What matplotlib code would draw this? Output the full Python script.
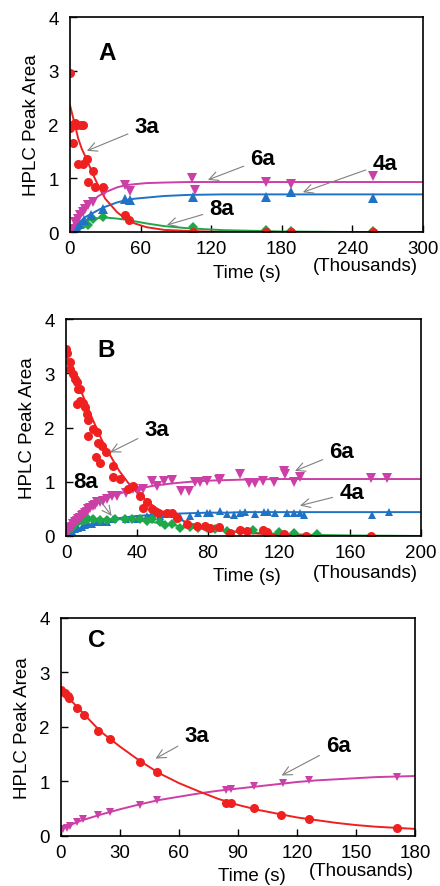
import matplotlib
matplotlib.use("Agg")
import matplotlib.pyplot as plt

plt.rcParams['font.family'] = ['Liberation Sans', 'DejaVu Sans']

# ---------------- Panel A data (x in thousands of s) ----------------
a_3a_x = [0, 0, 2, 3, 4, 6, 9, 11, 7, 11, 14.7, 15.6, 20, 21, 28, 47, 50, 105, 167, 188, 258]
a_3a_y = [2.96, 1.93, 2.0, 1.66, 2.02, 2.0, 2.0, 2.0, 1.26, 1.26, 1.36, 0.93, 1.13, 0.84, 0.84, 0.31, 0.22, 0.0, 0.0, 0.0, 0.0]
a_6a_x = [0, 1.4, 4.3, 7, 8.5, 11.3, 12.8, 15.6, 19.8, 28.9, 46.8, 51, 104, 106, 167, 188, 258]
a_6a_y = [0.0, 0.06, 0.19, 0.25, 0.31, 0.37, 0.43, 0.50, 0.56, 0.74, 0.87, 0.76, 1.0, 0.78, 0.93, 0.90, 1.04]
a_4a_x = [0, 2, 5, 8, 12, 18, 28, 47, 51, 105, 167, 188, 258]
a_4a_y = [0.0, 0.04, 0.09, 0.15, 0.22, 0.32, 0.43, 0.62, 0.59, 0.66, 0.66, 0.74, 0.63]
a_8a_x = [0, 2, 5, 8, 12, 15, 20, 28, 105, 167, 188, 258]
a_8a_y = [0.0, 0.02, 0.07, 0.10, 0.15, 0.13, 0.24, 0.28, 0.09, 0.03, 0.02, 0.01]
# fitted curves
a_fit_x = [0, 3, 7, 10, 14, 20, 25, 30, 40, 47, 55, 65, 80, 100, 130, 180, 240, 300]
a_fit_3a = [2.36, 2.1, 1.74, 1.55, 1.36, 1.05, 0.82, 0.62, 0.37, 0.25, 0.16, 0.09, 0.04, 0.02, 0.0, 0.0, 0.0, 0.0]
a_fit_6a = [0.0, 0.14, 0.3, 0.4, 0.5, 0.6, 0.68, 0.74, 0.83, 0.87, 0.89, 0.91, 0.92, 0.93, 0.93, 0.93, 0.93, 0.93]
a_fit_4a = [0.0, 0.07, 0.16, 0.22, 0.29, 0.36, 0.42, 0.47, 0.55, 0.59, 0.62, 0.64, 0.67, 0.69, 0.70, 0.70, 0.70, 0.70]
a_fit_8a = [0.0, 0.06, 0.13, 0.17, 0.21, 0.25, 0.26, 0.27, 0.25, 0.23, 0.20, 0.16, 0.11, 0.07, 0.035, 0.01, 0.0, 0.0]

# ---------------- Panel B data ----------------
b_3a_x = [0, 0.4, 2.3, 2.3, 3.8, 5, 6, 6.6, 7.9, 6, 7.9, 9.8, 10.7, 11.7, 12.6, 12.6, 15.4, 17.3, 18.2, 20,
          16.9, 22.6, 19.2, 26.7, 26.3, 30.5, 35, 38, 41.7, 45.5, 43.6, 48.3, 52, 56.8, 59.6, 62.4, 68, 73.7,
          78.4, 81, 85.9, 92.5, 98, 101.9, 111, 113, 122.6, 135, 172]
b_3a_y = [3.45, 3.38, 3.2, 3.08, 2.98, 2.89, 2.83, 2.71, 2.71, 2.43, 2.49, 2.46, 2.37, 2.25, 2.14, 1.85, 1.97, 1.91, 1.72, 1.66,
          1.45, 1.54, 1.35, 1.29, 1.08, 1.05, 0.86, 0.92, 0.74, 0.62, 0.52, 0.49, 0.43, 0.43, 0.43, 0.34, 0.22, 0.18,
          0.18, 0.15, 0.17, 0.06, 0.11, 0.09, 0.11, 0.07, 0.03, 0.0, 0.0]
b_6a_x = [0, 1.3, 2.3, 3.2, 4.1, 5, 6, 7, 7.9, 8.8, 9.8, 10.7, 11.7, 12.6, 13.5, 15, 16.4, 17.3, 19.2, 21, 22.9,
          25.8, 28.6, 34, 38, 40.8, 43.6, 48.3, 51, 55, 59.6, 65, 69, 72.7, 75.6, 79.3, 85.9, 86.8, 98, 102.8,
          106.6, 111, 117, 123, 123.5, 128.2, 132, 172, 181]
b_6a_y = [0.01, 0.09, 0.14, 0.17, 0.22, 0.25, 0.28, 0.31, 0.34, 0.37, 0.39, 0.42, 0.44, 0.49, 0.52, 0.55, 0.58, 0.62, 0.62, 0.65, 0.68,
          0.73, 0.74, 0.80, 0.86, 0.83, 0.86, 1.02, 0.92, 1.02, 1.03, 0.83, 0.83, 1.0, 1.0, 1.02, 1.03, 1.05, 1.15, 0.98,
          0.98, 1.02, 1.0, 1.2, 1.14, 0.99, 1.08, 1.06, 1.06]
b_4a_x = [0, 1.3, 3.2, 5, 7, 8.8, 10.7, 12.6, 14.5, 17.3, 20, 23, 26.7, 34, 40, 45.5,
          48.3, 53, 55, 60, 64.3, 70, 74.6, 79.3, 81.2, 86.8, 90.6, 94.4, 98.1, 100.9, 106.6, 111.3, 114,
          117.7, 124.4, 128.2, 132, 133.8, 172.4, 181.8]
b_4a_y = [0.0, 0.06, 0.09, 0.12, 0.15, 0.17, 0.20, 0.22, 0.23, 0.25, 0.25, 0.25, 0.31, 0.31, 0.32, 0.36,
          0.40, 0.37, 0.40, 0.40, 0.35, 0.36, 0.43, 0.43, 0.42, 0.46, 0.40, 0.38, 0.42, 0.45, 0.40, 0.44, 0.44,
          0.42, 0.43, 0.42, 0.42, 0.38, 0.38, 0.44]
b_8a_x = [0, 1.3, 3.2, 5, 7, 8.8, 10.7, 12.6, 15.4, 19.2, 23, 27.6, 33, 37, 41.7, 45.5,
          48.3, 53, 55.8, 59.6, 64.3, 70, 74.6, 79.3, 84, 90.6, 98.1, 105.6, 112.2, 119.7, 128.2, 141.4]
b_8a_y = [0.0, 0.09, 0.15, 0.22, 0.25, 0.28, 0.30, 0.31, 0.31, 0.30, 0.30, 0.32, 0.31, 0.32, 0.31, 0.28,
          0.31, 0.25, 0.20, 0.22, 0.15, 0.17, 0.15, 0.14, 0.12, 0.09, 0.09, 0.11, 0.06, 0.07, 0.05, 0.03]
b_fit_x = [0, 5, 10, 15, 20, 25, 30, 35, 40, 50, 60, 70, 80, 90, 100, 120, 140, 160, 200]
b_fit_3a = [3.35, 2.95, 2.55, 2.15, 1.78, 1.48, 1.2, 0.98, 0.8, 0.53, 0.35, 0.23, 0.15, 0.1, 0.06, 0.02, 0.0, 0.0, 0.0]
b_fit_6a = [0.0, 0.24, 0.43, 0.56, 0.65, 0.72, 0.78, 0.83, 0.87, 0.93, 0.97, 1.0, 1.02, 1.03, 1.04, 1.05, 1.05, 1.05, 1.05]
b_fit_4a = [0.0, 0.09, 0.17, 0.22, 0.27, 0.30, 0.33, 0.35, 0.37, 0.39, 0.41, 0.42, 0.43, 0.43, 0.44, 0.44, 0.44, 0.44, 0.44]
b_fit_8a = [0.0, 0.18, 0.27, 0.30, 0.31, 0.31, 0.31, 0.30, 0.29, 0.25, 0.2, 0.16, 0.12, 0.09, 0.07, 0.04, 0.02, 0.01, 0.0]

# ---------------- Panel C data ----------------
c_3a_x = [0, 2, 3.4, 4.2, 8, 11.7, 18.6, 25, 40, 49, 84, 86.4, 98, 112, 126, 171]
c_3a_y = [2.68, 2.62, 2.56, 2.53, 2.35, 2.22, 1.93, 1.77, 1.36, 1.17, 0.61, 0.60, 0.51, 0.39, 0.31, 0.15]
c_6a_x = [0, 1, 3, 4.5, 8.3, 11.4, 19, 25, 40, 49, 84, 86.4, 98, 113, 126, 171]
c_6a_y = [0.13, 0.12, 0.15, 0.18, 0.25, 0.31, 0.38, 0.44, 0.56, 0.66, 0.84, 0.86, 0.91, 0.98, 1.02, 1.09]
c_fit_x = [0, 10, 20, 30, 40, 50, 60, 70, 80, 90, 100, 110, 120, 130, 140, 150, 160, 170, 180]
c_fit_3a = [2.68, 2.3, 1.92, 1.64, 1.38, 1.15, 0.97, 0.82, 0.68, 0.57, 0.48, 0.41, 0.34, 0.29, 0.24, 0.2, 0.17, 0.15, 0.13]
c_fit_6a = [0.13, 0.28, 0.39, 0.49, 0.58, 0.66, 0.72, 0.78, 0.83, 0.87, 0.91, 0.95, 0.99, 1.02, 1.04, 1.06, 1.08, 1.09, 1.10]

RED = '#ee2020'
MAG = '#cc3fa6'
BLUE = '#1f72c4'
GREEN = '#1fa84a'
ARROW = '#808080'
LW = 1.4

fig = plt.figure(figsize=(4.40, 8.87), dpi=100)

def style(ax, xmax, xstep, time_x, thou_x, time_y, thou_y):
    ax.set_xlim(0, xmax)
    ax.set_ylim(0, 4)
    ax.set_xticks(list(range(0, xmax + 1, xstep)))
    ax.set_yticks([0, 1, 2, 3, 4])
    ax.tick_params(direction='in', length=5, width=1.0, labelsize=13.5, pad=6)
    ax.tick_params(axis='y', pad=8)
    for s in ax.spines.values():
        s.set_linewidth(1.2)
    ax.set_ylabel('HPLC Peak Area', fontsize=13.5, labelpad=6)
    ax.text(time_x, time_y, 'Time (s)', transform=ax.transAxes, ha='center', va='center', fontsize=13.5)
    ax.text(thou_x, thou_y, '(Thousands)', transform=ax.transAxes, ha='right', va='center', fontsize=13.5)

def lab(ax, text, xy, xyt):
    ax.annotate(text, xy=xy, xytext=xyt, fontsize=16, fontweight='bold', ha='center', va='center',
                arrowprops=dict(arrowstyle='->', color=ARROW, lw=0.8, shrinkA=3, shrinkB=0))

MS = dict(markeredgewidth=0)

# ---- Panel A ----
axA = fig.add_axes([0.159, 0.7373, 0.802, 0.2424])
axA.plot(a_fit_x, a_fit_8a, color=GREEN, lw=LW)
axA.plot(a_fit_x, a_fit_4a, color=BLUE, lw=LW)
axA.plot(a_fit_x, a_fit_6a, color=MAG, lw=LW)
axA.plot(a_fit_x, a_fit_3a, color=RED, lw=LW)
axA.plot(a_8a_x, a_8a_y, 'D', color=GREEN, ms=5, **MS)
axA.plot(a_4a_x, a_4a_y, '^', color=BLUE, ms=6.5, **MS)
axA.plot(a_6a_x, a_6a_y, 'v', color=MAG, ms=6.5, **MS)
axA.plot(a_3a_x, a_3a_y, 'o', color=RED, ms=6.5, **MS)
style(axA, 300, 60, 0.50, 0.986, -0.186, -0.158)
axA.text(0.105, 0.837, 'A', transform=axA.transAxes, fontsize=17.5, fontweight='bold', ha='center', va='center')
lab(axA, '3a', (14.4, 1.51), (65.4, 1.97))
lab(axA, '6a', (117.3, 0.97), (164, 1.36))
lab(axA, '4a', (198, 0.74), (267.7, 1.28))
lab(axA, '8a', (82.4, 0.13), (129.2, 0.43))

# ---- Panel B ----
axB = fig.add_axes([0.15, 0.3946, 0.807, 0.2446])
axB.plot(b_fit_x, b_fit_8a, color=GREEN, lw=LW)
axB.plot(b_fit_x, b_fit_4a, color=BLUE, lw=LW)
axB.plot(b_fit_x, b_fit_6a, color=MAG, lw=LW)
axB.plot(b_fit_x, b_fit_3a, color=RED, lw=LW)
axB.plot(b_4a_x, b_4a_y, '^', color=BLUE, ms=6, **MS)
axB.plot(b_8a_x, b_8a_y, 'D', color=GREEN, ms=5, **MS)
axB.plot(b_6a_x, b_6a_y, 'v', color=MAG, ms=6.5, **MS)
axB.plot(b_3a_x, b_3a_y, 'o', color=RED, ms=6.5, **MS)
style(axB, 200, 40, 0.509, 0.992, -0.183, -0.166)
axB.text(0.113, 0.86, 'B', transform=axB.transAxes, fontsize=17.5, fontweight='bold', ha='center', va='center')
lab(axB, '3a', (24.8, 1.54), (51.1, 1.97))
lab(axB, '6a', (129, 1.2), (155.3, 1.55))
lab(axB, '4a', (131.8, 0.56), (161, 0.80))
lab(axB, '8a', (25.7, 0.37), (11.3, 1.0))

# ---- Panel C ----
axC = fig.add_axes([0.1386, 0.0564, 0.8045, 0.2458])
axC.plot(c_fit_x, c_fit_6a, color=MAG, lw=LW)
axC.plot(c_fit_x, c_fit_3a, color=RED, lw=LW)
axC.plot(c_6a_x, c_6a_y, 'v', color=MAG, ms=6, **MS)
axC.plot(c_3a_x, c_3a_y, 'o', color=RED, ms=6.5, **MS)
style(axC, 180, 30, 0.539, 0.997, -0.183, -0.159)
axC.text(0.10, 0.90, 'C', transform=axC.transAxes, fontsize=17.5, fontweight='bold', ha='center', va='center')
lab(axC, '3a', (48.1, 1.42), (69, 1.84))
lab(axC, '6a', (112.2, 1.11), (141, 1.66))

fig.savefig('out.png', dpi=100)
